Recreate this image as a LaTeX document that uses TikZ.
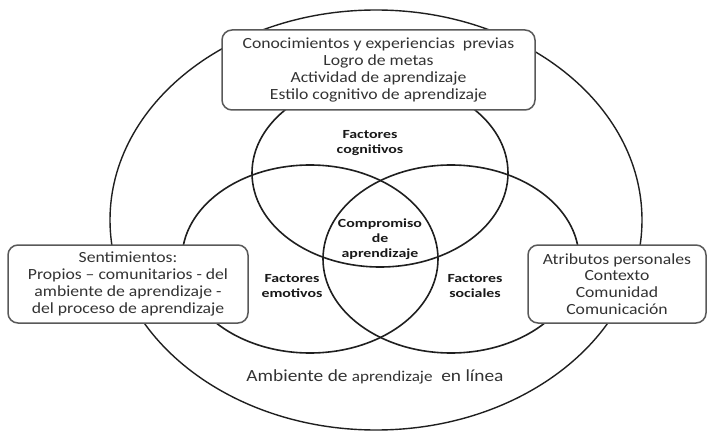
\documentclass[tikz,border=0pt]{standalone}
\usepackage{fontspec}
\setmainfont{Carlito}[FakeStretch=1.14]
\newfontfamily\tagfont{Carlito}[FakeStretch=1.28]
\usetikzlibrary{shapes}
\tikzstyle{world} = [ellipse, draw=black!88, line width=1.4pt, minimum width=532pt, minimum height=420pt, inner sep=0pt]
\tikzstyle{factor} = [ellipse, draw=black!88, line width=1.6pt, minimum width=256pt, minimum height=188pt, inner sep=0pt]
\tikzstyle{block} = [rectangle, draw=black!65, line width=1.5pt, fill=white, rounded corners=10pt, align=center, text=black!80, font=\fontsize{15.5}{16.8}\selectfont]
\tikzstyle{factortag} = [align=center, text=black!90, font=\tagfont\bfseries\fontsize{12.4}{14.8}\selectfont]

\begin{document}
\begin{tikzpicture}[x=1pt, y=-1pt]
\useasboundingbox (0, 0) rectangle (707, 433);

% environment and the three factors
\node [world] at (376, 220) (amb) {};
\node [factor] at (380, 173) (cog) {};
\node [factor] at (310, 259) (emo) {};
\node [factor] at (451, 259) (soc) {};

\node [factortag] at (370, 143) (cogtag) {Factores\\cognitivos};
\node [factortag] at (292, 286) (emotag) {Factores\\emotivos};
\node [factortag] at (475, 286) (soctag) {Factores\\sociales};
\node [factortag] at (380, 239) (comp) {Compromiso\\de\\aprendizaje};

\node [text=black!80] at (375, 377) (ambtag) {\fontsize{17}{20}\selectfont Ambiente de {\fontsize{15}{18}\selectfont aprendizaje}\ \ en línea};

% boxes
\node [block, minimum width=313pt, minimum height=80pt] at (378.5, 70) (prev) {Conocimientos y experiencias\ \ previas\\Logro de metas\\Actividad de aprendizaje\\Estilo cognitivo de aprendizaje};
\node [block, minimum width=240pt, minimum height=78pt] at (128, 284) (sent) {Sentimientos:\\Propios -- comunitarios - del\\ambiente de aprendizaje -\\del proceso de aprendizaje};
\node [block, minimum width=178pt, minimum height=78pt] at (617, 284) (attr) {Atributos personales\\Contexto\\Comunidad\\Comunicación};

\end{tikzpicture}
\end{document}
